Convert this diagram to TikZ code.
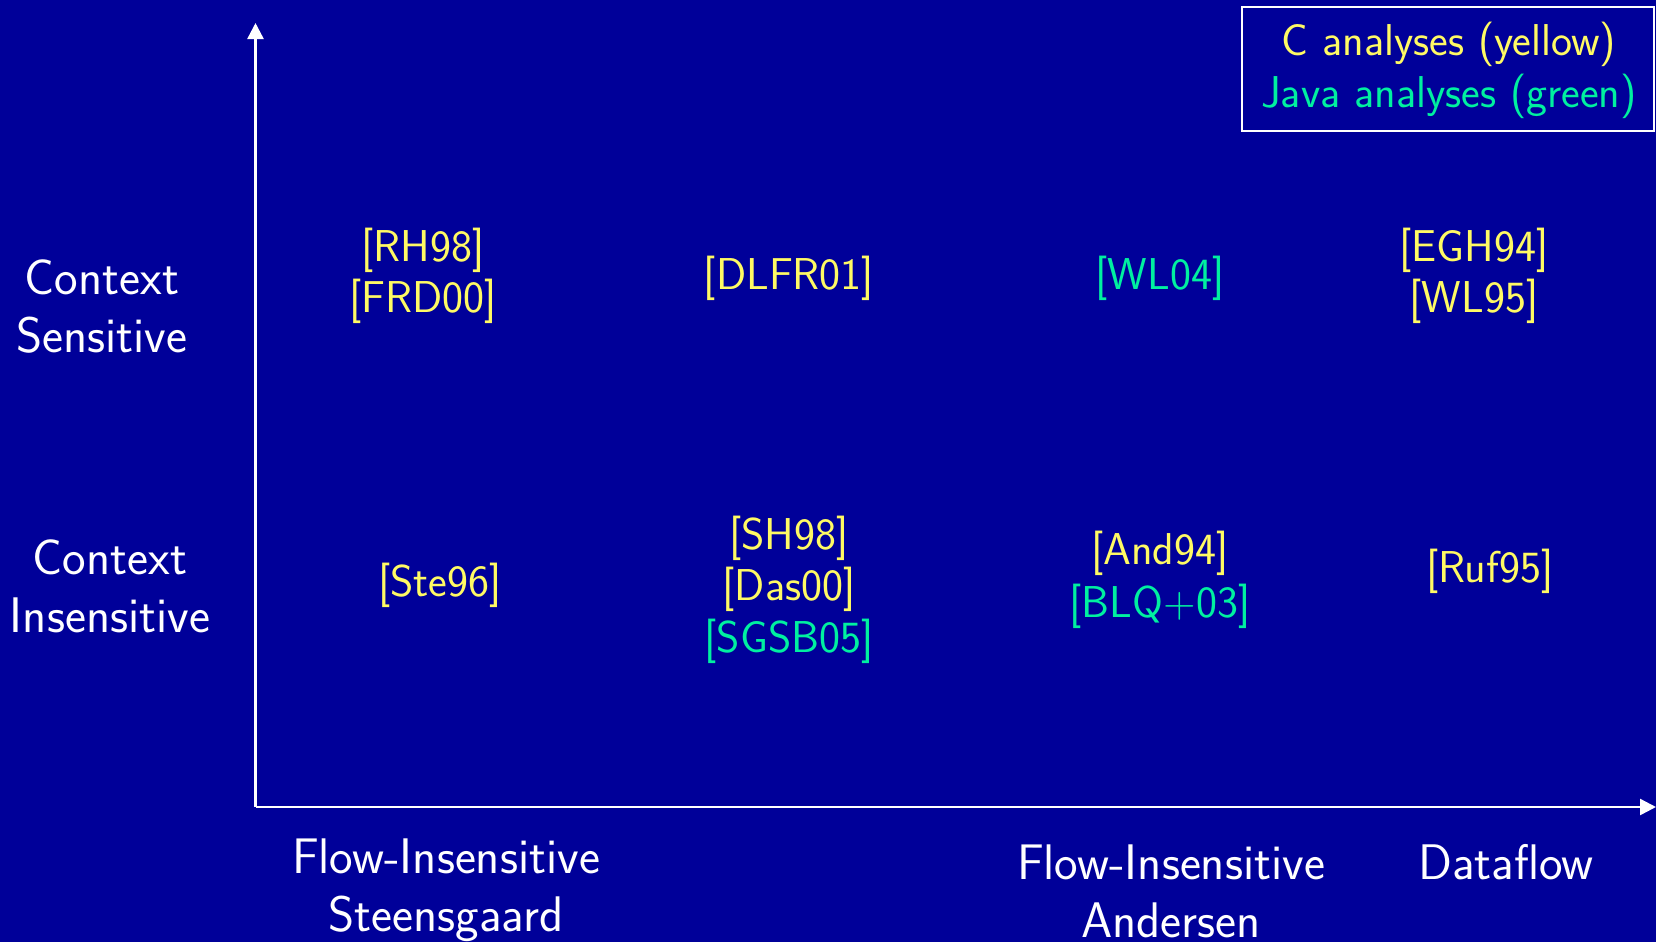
\documentclass[tikz,border=0pt]{standalone}
\usetikzlibrary{arrows.meta}
\definecolor{bgblue}{RGB}{0,0,153}
\definecolor{citey}{RGB}{255,250,100}
\definecolor{citeg}{RGB}{0,240,160}
\begin{document}
\begin{tikzpicture}[x=0.5pt,y=-0.5pt,
  lbl/.style={text=white,align=center,font=\sffamily\fontsize{25}{29}\selectfont,inner sep=0pt},
  cy/.style={text=citey,align=center,font=\sffamily\fontsize{22.3}{25.8}\selectfont,inner sep=0pt},
  cg/.style={text=citeg,align=center,font=\sffamily\fontsize{22.3}{25.8}\selectfont,inner sep=0pt},
  axis/.style={draw=white,line width=1.2pt,-{Triangle[length=8pt,width=8pt]}}]
\fill[bgblue] (0,0) rectangle (1656,942);
\useasboundingbox (0,0) rectangle (1656,942);
% axes
\coordinate (O) at (255.5,807);
\coordinate (ytop) at (255.5,23);
\coordinate (xend) at (1656,807);
\draw[axis] (O) -- (ytop);
\draw[axis] (O) -- (xend);
% legend
\node[draw=white,line width=1pt,minimum width=206pt,minimum height=62pt,inner sep=0pt] (legend) at (1448,69) {};
\node[text=citey,font=\sffamily\fontsize{22.3}{25}\selectfont,inner sep=0pt] (legC) at (1449,44) {C analyses (yellow)};
\node[text=citeg,font=\sffamily\fontsize{22.3}{25}\selectfont,inner sep=0pt] (legJ) at (1449,96) {Java analyses (green)};
% row labels
\node[lbl] (cs) at (102,307) {Context\\Sensitive};
\node[lbl] (ci) at (110,586) {Context\\Insensitive};
% column labels
\node[lbl] (fis) at (446,890) {Flow-Insensitive\\Steensgaard};
\node[lbl] (fia) at (1171,891) {Flow-Insensitive\\Andersen};
\node[lbl] (df) at (1506,862) {Dataflow};
% cells
\node[cy] (rh) at (423,276) {{[RH98]}\\{[FRD00]}};
\node[cy] (dlfr) at (789,278) {[DLFR01]};
\node[cg] (wl04) at (1160,278) {[WL04]};
\node[cy] (egh) at (1474,276) {{[EGH94]}\\{[WL95]}};
\node[cy] (ste) at (440,585) {[Ste96]};
\node[cy] (sh) at (789,564) {{[SH98]}\\{[Das00]}};
\node[cg] (sgsb) at (789,641) {[SGSB05]};
\node[cy] (and) at (1160,553) {[And94]};
\node[cg] (blq) at (1160,606) {[BLQ+03]};
\node[cy] (ruf) at (1490,571) {[Ruf95]};
\end{tikzpicture}
\end{document}
